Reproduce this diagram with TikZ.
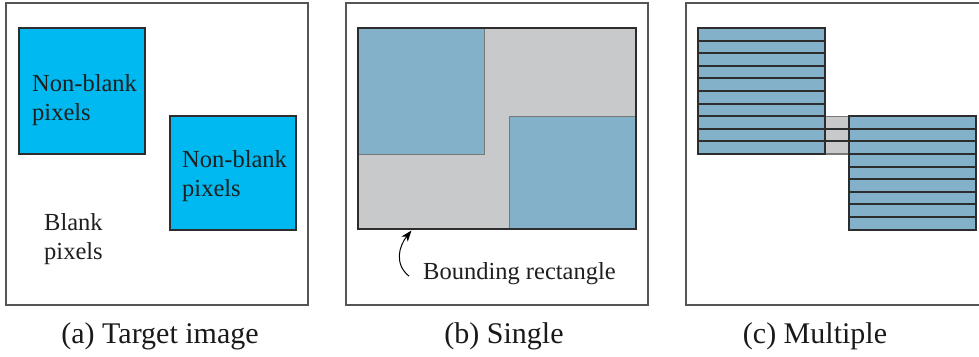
\documentclass[tikz,border=0pt]{standalone}
\usepackage{fontspec}
\setmainfont{Liberation Serif}
\usetikzlibrary{arrows.meta}

\definecolor{pixcyan}{RGB}{0,185,240}
\definecolor{pixblue}{RGB}{130,177,201}
\definecolor{bboxgray}{RGB}{200,201,203}
\definecolor{framegray}{RGB}{85,85,85}
\definecolor{edgedark}{RGB}{45,45,45}
\definecolor{edgemid}{RGB}{120,120,120}

\tikzset{
  panel/.style={draw=framegray, line width=1.3pt},
  cyanbox/.style={fill=pixcyan, draw=edgedark, line width=1.1pt},
  bluebox/.style={fill=pixblue, draw=edgemid, line width=0.9pt},
  bbox/.style={fill=bboxgray, draw=edgedark, line width=2.2pt},
  strip/.style={fill=pixblue, draw=edgedark, line width=1.9pt},
  graystrip/.style={fill=bboxgray, draw=edgemid, line width=1.2pt},
  rowsep/.style={draw=edgedark, line width=1.9pt},
  lbl/.style={anchor=base west, inner sep=0pt, font=\fontsize{24.5}{29.5}\selectfont, text=black!88},
  caption/.style={anchor=base, inner sep=0pt, font=\fontsize{30}{36}\selectfont, text=black!90},
}

\begin{document}
\begin{tikzpicture}[x=1pt, y=-1pt]
  \useasboundingbox (0,0) rectangle (979,356);

  % (a) target image
  \draw[panel] (6,3) rectangle (308,305);
  \draw[cyanbox] (19,28) rectangle (145,154);
  \draw[cyanbox] (170,116) rectangle (296,230);
  \node[lbl] (nbA1) at (32,91) {Non-blank};
  \node[lbl] (nbA2) at (32,120.5) {pixels};
  \node[lbl] (nbB1) at (182,167) {Non-blank};
  \node[lbl] (nbB2) at (182,196.5) {pixels};
  \node[lbl] (bl1) at (44,230) {Blank};
  \node[lbl] (bl2) at (44,259.5) {pixels};
  \node[caption] (capa) at (160,343) {(a) Target image};

  % (b) one bounding rectangle around all non-blank pixels
  \draw[panel] (346,3) rectangle (648,305);
  \draw[bbox] (358.3,28) rectangle (636,229);
  \draw[bluebox] (358.3,28) rectangle (484.7,154);
  \draw[bluebox] (509.3,116) rectangle (636,229);
  \draw[edgedark, line width=2.2pt] (358.3,28) rectangle (636,229);
  \coordinate (bbedge) at (411.5,230.5);
  \node[lbl] (bbtxt) at (423,279) {Bounding rectangle};
  \draw[line width=1pt, -{Stealth[length=11pt, width=8pt, inset=3pt]}]
    (bbtxt.west) ++(-14,3) .. controls (394,264) and (399,246) .. (bbedge);
  \node[caption] (capb) at (504,343) {(b) Single};

  % (c) one bounding rectangle per pixel row
  \draw[panel] (979,3) -- (686,3) -- (686,305) -- (979,305);
  % rows shared by both blocks: full-width gray rectangles
  \foreach \r in {7,8,9} {
    \draw[graystrip] (698.3,{28+\r*12.6}) rectangle (975.7,{28+(\r+1)*12.6});
  }
  \foreach \r in {8,9} {
    \draw[rowsep] (824.7,{28+\r*12.6}) -- (849.3,{28+\r*12.6});
  }
  % upper-left block: ten rows
  \foreach \r in {0,...,9} {
    \draw[strip] (698.3,{28+\r*12.6}) rectangle (824.7,{28+(\r+1)*12.6});
  }
  % lower-right block: nine rows
  \foreach \r in {7,...,15} {
    \draw[strip] (849.3,{28+\r*12.6}) rectangle (975.7,{28+(\r+1)*12.6});
  }
  \node[caption] (capc) at (815,343) {(c) Multiple};
\end{tikzpicture}
\end{document}
